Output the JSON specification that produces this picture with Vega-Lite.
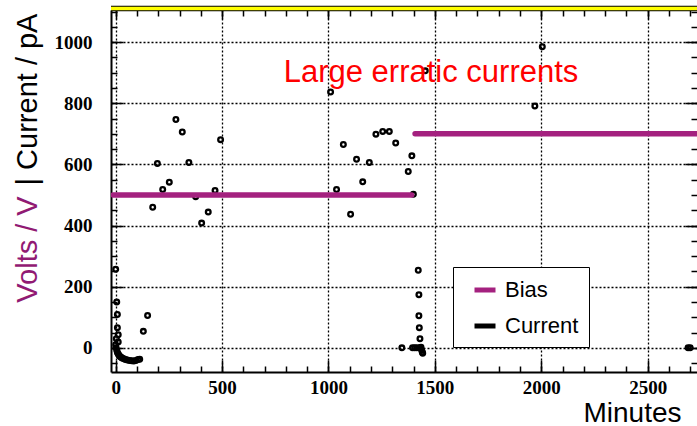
{
  "$schema": "https://vega.github.io/schema/vega-lite/v6.json",
  "width": 586,
  "height": 362,
  "autosize": {"type": "none"},
  "padding": {"left": 111, "top": 10, "right": 0, "bottom": 54},
  "background": "white",
  "config": {
    "view": {"stroke": null},
    "axis": {
      "labelFont": "Liberation Serif",
      "labelFontWeight": "bold",
      "labelFontSize": 19,
      "labelColor": "black",
      "format": "d",
      "tickColor": "black",
      "tickWidth": 1.5,
      "domainColor": "black",
      "domainWidth": 2,
      "gridColor": "black",
      "gridDash": [2, 2],
      "gridWidth": 1.3,
      "gridOpacity": 1,
      "titleFont": "Liberation Sans",
      "titleFontWeight": "normal",
      "titleColor": "black"
    }
  },
  "datasets": {
    "current": [
      {"series": "Current", "minute": 0, "value": 257},
      {"series": "Current", "minute": 5, "value": 150},
      {"series": "Current", "minute": 8, "value": 109},
      {"series": "Current", "minute": 8, "value": 66},
      {"series": "Current", "minute": 12, "value": 43},
      {"series": "Current", "minute": 12, "value": 19},
      {"series": "Current", "minute": 0, "value": 10},
      {"series": "Current", "minute": 3, "value": 30},
      {"series": "Current", "minute": 2, "value": 0},
      {"series": "Current", "minute": 5, "value": -8},
      {"series": "Current", "minute": 8, "value": -15},
      {"series": "Current", "minute": 12, "value": -20},
      {"series": "Current", "minute": 16, "value": -25},
      {"series": "Current", "minute": 20, "value": -28},
      {"series": "Current", "minute": 25, "value": -31},
      {"series": "Current", "minute": 30, "value": -33},
      {"series": "Current", "minute": 38, "value": -36},
      {"series": "Current", "minute": 46, "value": -38},
      {"series": "Current", "minute": 55, "value": -40},
      {"series": "Current", "minute": 65, "value": -41},
      {"series": "Current", "minute": 75, "value": -42},
      {"series": "Current", "minute": 85, "value": -43},
      {"series": "Current", "minute": 95, "value": -41},
      {"series": "Current", "minute": 105, "value": -38},
      {"series": "Current", "minute": 113, "value": -37},
      {"series": "Current", "minute": 130, "value": 54},
      {"series": "Current", "minute": 150, "value": 106},
      {"series": "Current", "minute": 174, "value": 460},
      {"series": "Current", "minute": 196, "value": 603},
      {"series": "Current", "minute": 221, "value": 518},
      {"series": "Current", "minute": 252, "value": 542},
      {"series": "Current", "minute": 283, "value": 747},
      {"series": "Current", "minute": 313, "value": 706},
      {"series": "Current", "minute": 344, "value": 606},
      {"series": "Current", "minute": 376, "value": 494},
      {"series": "Current", "minute": 404, "value": 408},
      {"series": "Current", "minute": 435, "value": 444},
      {"series": "Current", "minute": 467, "value": 515},
      {"series": "Current", "minute": 493, "value": 681},
      {"series": "Current", "minute": 1010, "value": 837},
      {"series": "Current", "minute": 1038, "value": 518},
      {"series": "Current", "minute": 1070, "value": 665},
      {"series": "Current", "minute": 1104, "value": 437},
      {"series": "Current", "minute": 1132, "value": 617},
      {"series": "Current", "minute": 1161, "value": 543},
      {"series": "Current", "minute": 1192, "value": 606},
      {"series": "Current", "minute": 1223, "value": 699},
      {"series": "Current", "minute": 1255, "value": 708},
      {"series": "Current", "minute": 1286, "value": 708},
      {"series": "Current", "minute": 1316, "value": 670},
      {"series": "Current", "minute": 1345, "value": 0},
      {"series": "Current", "minute": 1375, "value": 577},
      {"series": "Current", "minute": 1392, "value": 628},
      {"series": "Current", "minute": 1399, "value": 502},
      {"series": "Current", "minute": 1395, "value": 0},
      {"series": "Current", "minute": 1405, "value": 0},
      {"series": "Current", "minute": 1415, "value": 0},
      {"series": "Current", "minute": 1422, "value": 254},
      {"series": "Current", "minute": 1425, "value": 174},
      {"series": "Current", "minute": 1425, "value": 105},
      {"series": "Current", "minute": 1427, "value": 66},
      {"series": "Current", "minute": 1430, "value": 30},
      {"series": "Current", "minute": 1428, "value": 0},
      {"series": "Current", "minute": 1435, "value": 2},
      {"series": "Current", "minute": 1438, "value": -8},
      {"series": "Current", "minute": 1441, "value": -14},
      {"series": "Current", "minute": 1443, "value": -18},
      {"series": "Current", "minute": 1455, "value": 906},
      {"series": "Current", "minute": 1970, "value": 791},
      {"series": "Current", "minute": 2005, "value": 985},
      {"series": "Current", "minute": 2690, "value": 0},
      {"series": "Current", "minute": 2700, "value": 0}
    ],
    "bias": [
      {"series": "Bias", "segment": "a", "minute": -12, "value": 500},
      {"series": "Bias", "segment": "a", "minute": 1391, "value": 500},
      {"series": "Bias", "segment": "b", "minute": 1407, "value": 700},
      {"series": "Bias", "segment": "b", "minute": 2780, "value": 700}
    ],
    "top": [
      {"minute": -22, "value": 1110},
      {"minute": 2732, "value": 1110}
    ],
    "note": [
      {"minute": 1482, "value": 869, "text": "Large erratic currents"}
    ]
  },
  "layer": [
    {
      "data": {"name": "current"},
      "mark": {"type": "point", "shape": "circle", "filled": false, "strokeWidth": 2.3, "size": 22, "opacity": 1},
      "encoding": {
        "x": {"field": "minute", "type": "quantitative",
          "scale": {"domain": [-22, 2732], "nice": false, "zero": false},
          "axis": {"orient": "bottom", "values": [0, 500, 1000, 1500, 2000, 2500], "grid": true,
            "ticks": true, "tickSize": -12, "labelPadding": 18, "domain": true,
            "title": "Minutes", "titleX": 521, "titleY": 49, "titleAlign": "center",
            "titleBaseline": "alphabetic", "titleFontSize": 28, "titleAngle": 0}},
        "y": {"field": "value", "type": "quantitative",
          "scale": {"domain": [-79, 1105], "nice": false, "zero": false},
          "axis": {"orient": "left", "values": [0, 200, 400, 600, 800, 1000], "grid": true,
            "ticks": true, "tickSize": -12, "labelPadding": 31, "domain": true,
            "title": "| Current / pA", "titleX": -75, "titleY": 89, "titleAlign": "center",
            "titleBaseline": "alphabetic", "titleAngle": -90, "titleFontSize": 29, "titleColor": "black"}},
        "color": {"field": "series", "type": "nominal",
          "scale": {"domain": ["Bias", "Current"], "range": ["#A4217F", "#000000"]},
          "legend": {"orient": "none", "legendX": 342, "legendY": 257, "title": null,
            "symbolType": "stroke", "symbolStrokeWidth": 5, "symbolSize": 441,
            "labelFont": "Liberation Sans", "labelFontSize": 22, "labelColor": "black",
            "labelOffset": 7, "rowPadding": 12, "padding": 10, "symbolOffset": 9,
            "fillColor": "white", "strokeColor": "black",
            "labelExpr": "datum.label + '\u00a0\u00a0\u00a0\u00a0\u00a0\u00a0\u00a0\u00a0\u00a0\u00a0'"}}
      }
    },
    {
      "data": {"name": "bias"},
      "mark": {"type": "line", "strokeWidth": 5.5, "strokeCap": "round", "clip": true},
      "encoding": {
        "x": {"field": "minute", "type": "quantitative",
          "scale": {"domain": [-22, 2732], "nice": false, "zero": false},
          "axis": {"orient": "top", "values": [0,100,200,300,400,500,600,700,800,900,1000,1100,1200,1300,1400,1500,1600,1700,1800,1900,2000,2100,2200,2300,2400,2500,2600,2700],
            "grid": false, "labels": false, "ticks": true, "tickSize": -6, "domain": false, "title": null}},
        "y": {"field": "value", "type": "quantitative",
          "scale": {"domain": [-79, 1105], "nice": false, "zero": false},
          "axis": {"orient": "right", "values": [-50,0,50,100,150,200,250,300,350,400,450,500,550,600,650,700,750,800,850,900,950,1000,1050,1100],
            "grid": false, "labels": false, "ticks": true, "tickSize": -6, "domain": false, "title": null}},
        "detail": {"field": "segment"},
        "color": {"field": "series", "type": "nominal",
          "scale": {"domain": ["Bias", "Current"], "range": ["#A4217F", "#000000"]},
          "legend": {"orient": "none", "legendX": 342, "legendY": 257, "title": null,
            "symbolType": "stroke", "symbolStrokeWidth": 5, "symbolSize": 441,
            "labelFont": "Liberation Sans", "labelFontSize": 22, "labelColor": "black",
            "labelOffset": 7, "rowPadding": 12, "padding": 10, "symbolOffset": 9,
            "fillColor": "white", "strokeColor": "black",
            "labelExpr": "datum.label + '\u00a0\u00a0\u00a0\u00a0\u00a0\u00a0\u00a0\u00a0\u00a0\u00a0'"}}
      }
    },
    {
      "data": {"name": "note"},
      "mark": {"type": "text", "font": "Liberation Sans", "fontSize": 31, "color": "#FF0000", "align": "center", "baseline": "alphabetic"},
      "encoding": {
        "x": {"field": "minute", "type": "quantitative",
          "scale": {"domain": [-22, 2732], "nice": false, "zero": false},
          "axis": {"orient": "top", "values": [0, 500, 1000, 1500, 2000, 2500], "grid": false, "labels": false,
            "ticks": true, "tickSize": -9, "domain": false, "title": null}},
        "y": {"field": "value", "type": "quantitative",
          "scale": {"domain": [-79, 1105], "nice": false, "zero": false},
          "axis": {"orient": "right", "values": [0, 200, 400, 600, 800, 1000], "grid": false, "labels": false,
            "ticks": true, "tickSize": -12, "domain": false, "title": null}},
        "text": {"field": "text"}
      }
    },
    {
      "data": {"name": "top"},
      "mark": {"type": "line", "strokeWidth": 5.5, "color": "black"},
      "encoding": {
        "x": {"field": "minute", "type": "quantitative",
          "scale": {"domain": [-22, 2732], "nice": false, "zero": false},
          "axis": {"orient": "bottom", "values": [0,100,200,300,400,500,600,700,800,900,1000,1100,1200,1300,1400,1500,1600,1700,1800,1900,2000,2100,2200,2300,2400,2500,2600,2700],
            "grid": false, "labels": false, "ticks": true, "tickSize": -6, "domain": false, "title": null}},
        "y": {"field": "value", "type": "quantitative",
          "scale": {"domain": [-79, 1105], "nice": false, "zero": false},
          "axis": {"orient": "left", "values": [-50,0,50,100,150,200,250,300,350,400,450,500,550,600,650,700,750,800,850,900,950,1000,1050,1100],
            "grid": false, "labels": false, "ticks": true, "tickSize": -6, "domain": false,
            "title": "Volts / V", "titleX": -75, "titleY": 239, "titleAlign": "center",
            "titleBaseline": "alphabetic", "titleAngle": -90, "titleFontSize": 29, "titleColor": "#911A73"}}
      }
    },
    {
      "data": {"name": "top"},
      "mark": {"type": "line", "strokeWidth": 3.5, "color": "#FFFF00"},
      "encoding": {
        "x": {"field": "minute", "type": "quantitative",
          "scale": {"domain": [-22, 2732], "nice": false, "zero": false}, "axis": null},
        "y": {"field": "value", "type": "quantitative",
          "scale": {"domain": [-79, 1105], "nice": false, "zero": false}, "axis": null}
      }
    }
  ],
  "resolve": {"axis": {"x": "independent", "y": "independent"}}
}
